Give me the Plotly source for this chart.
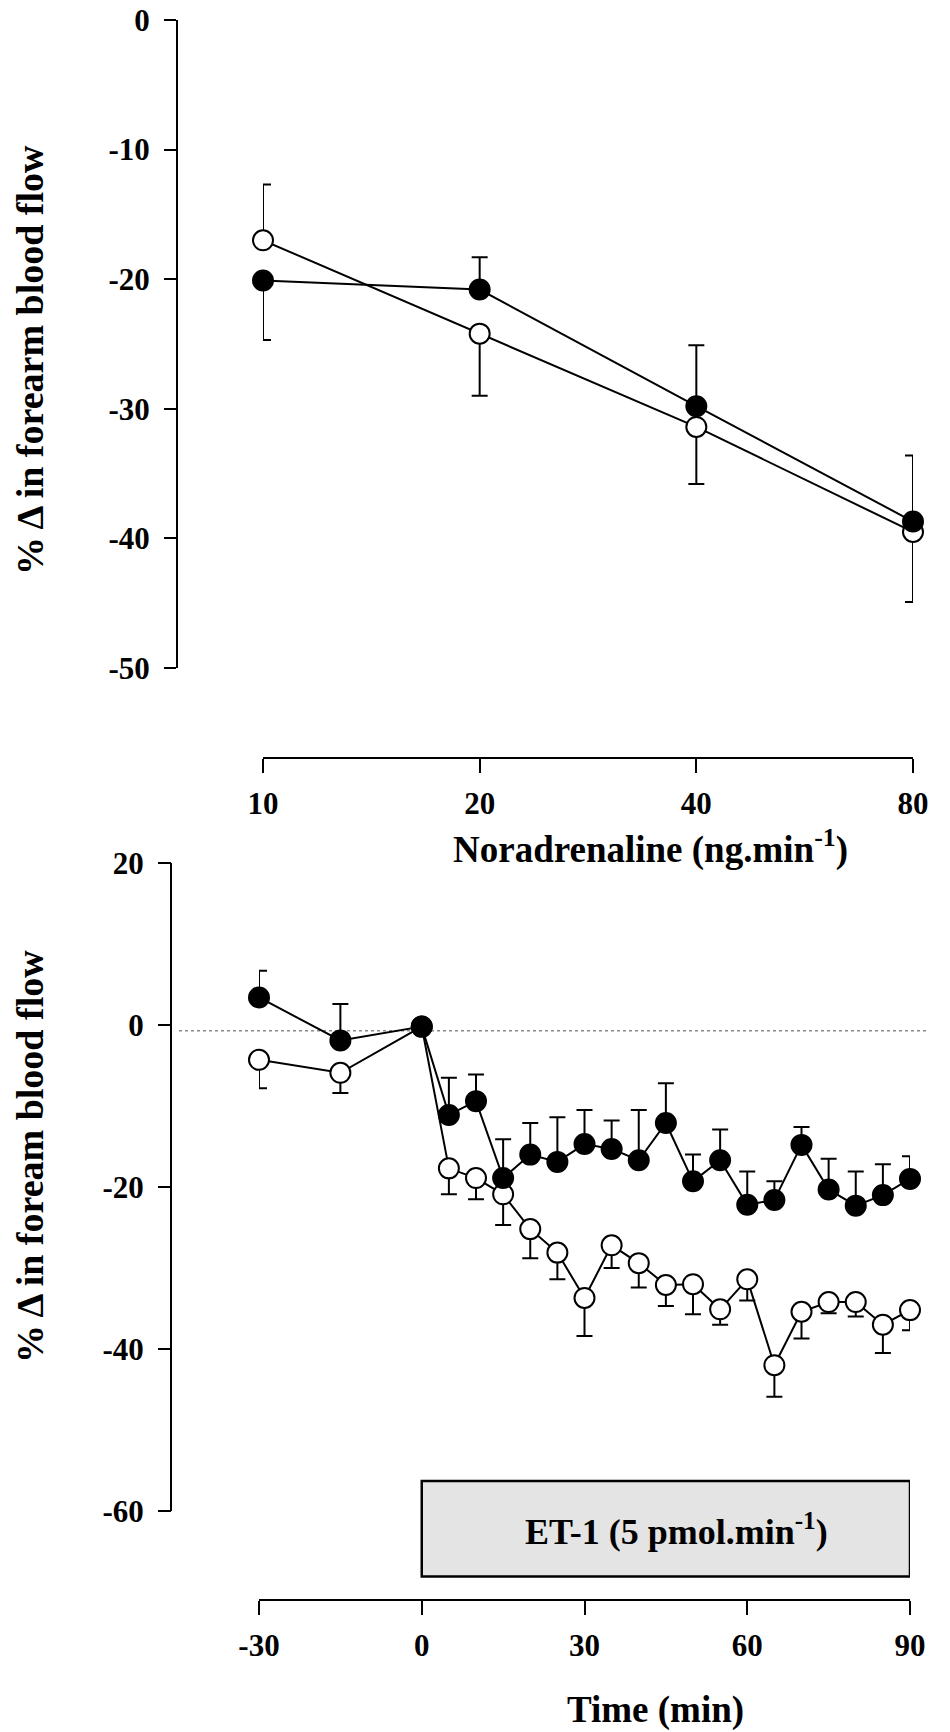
import math
import plotly.graph_objects as go

# ---------------- data ----------------
# Top panel: noradrenaline dose response
dose = [10, 20, 40, 80]
dose_ticktext = ["10", "20", "40", "80"]
na_filled = [-20.1, -20.8, -29.8, -38.7]
na_filled_err_up = [0.0, 2.5, 4.7, 5.1]
na_filled_err_down = [4.6, 0.0, 0.0, 0.0]
na_open = [-17.0, -24.2, -31.4, -39.5]
na_open_err_up = [4.3, 0.0, 0.0, 0.0]
na_open_err_down = [0.0, 4.8, 4.4, 5.4]
top_yticks = [0, -10, -20, -30, -40, -50]
top_yticktext = ["0", "-10", "-20", "-30", "-40", "-50"]

# Bottom panel: time course during ET-1 infusion
time_min = [-30, -15, 0, 5, 10, 15, 20, 25, 30, 35, 40, 45, 50, 55, 60, 65, 70, 75, 80, 85, 90]
et_filled = [3.4, -1.9, -0.2, -11.1, -9.4, -18.9, -16.0, -16.9, -14.7, -15.3, -16.7,
             -12.1, -19.3, -16.7, -22.2, -21.6, -14.8, -20.3, -22.3, -21.0, -19.0]
et_filled_err_up = [3.3, 4.5, 0.0, 4.6, 3.3, 4.8, 3.9, 5.5, 4.2, 3.5, 6.2,
                    4.9, 3.3, 3.8, 4.1, 2.3, 2.2, 3.8, 4.2, 3.8, 2.8]
et_open = [-4.3, -5.9, -0.2, -17.7, -18.9, -20.9, -25.2, -28.1, -33.7, -27.2, -29.4,
           -32.1, -32.0, -35.1, -31.4, -42.0, -35.4, -34.2, -34.2, -37.0, -35.2]
et_open_err_down = [3.5, 2.5, 0.0, 3.2, 2.6, 3.8, 3.6, 3.3, 4.7, 2.8, 3.0,
                    2.6, 3.7, 1.9, 2.6, 3.9, 3.3, 1.4, 1.8, 3.5, 2.5]
bot_xticks = [-30, 0, 30, 60, 90]
bot_xticktext = ["-30", "0", "30", "60", "90"]
bot_yticks = [20, 0, -20, -40, -60]
bot_yticktext = ["20", "0", "-20", "-40", "-60"]
infusion_start, infusion_end = 0, 90
baseline_level = -0.7

# ---------------- layout helpers ----------------
# The page body has a default 8px margin, so the figure is offset by 8px.
OFF = 8
W, H = 950 - OFF, 1732 - OFF
FONT = "Liberation Serif, Times New Roman, serif"


def fx(px):
    return (px - OFF) / W


def fy(py):
    return 1 - (py - OFF) / H


zeros = [0.0] * len(time_min)

fig = go.Figure()

marker_open = dict(symbol="circle", size=20, color="white", line=dict(color="black", width=2))
marker_filled = dict(symbol="circle", size=20, color="black", line=dict(color="black", width=2))
err_style = dict(type="data", symmetric=False, color="black", thickness=2, width=8)

# top panel
fig.add_trace(go.Scatter(
    x=dose, y=na_open, mode="lines+markers", xaxis="x", yaxis="y",
    line=dict(color="black", width=2), marker=marker_open, cliponaxis=False,
    error_y=dict(array=na_open_err_up, arrayminus=na_open_err_down, **err_style),
))
fig.add_trace(go.Scatter(
    x=dose, y=na_filled, mode="lines+markers", xaxis="x", yaxis="y",
    line=dict(color="black", width=2), marker=marker_filled, cliponaxis=False,
    error_y=dict(array=na_filled_err_up, arrayminus=na_filled_err_down, **err_style),
))

# bottom panel
fig.add_trace(go.Scatter(
    x=time_min, y=et_open, mode="lines+markers", xaxis="x2", yaxis="y2",
    line=dict(color="black", width=2), marker=marker_open, cliponaxis=False,
    error_y=dict(array=zeros, arrayminus=et_open_err_down, **err_style),
))
fig.add_trace(go.Scatter(
    x=time_min, y=et_filled, mode="lines+markers", xaxis="x2", yaxis="y2",
    line=dict(color="black", width=2), marker=marker_filled, cliponaxis=False,
    error_y=dict(array=et_filled_err_up, arrayminus=zeros, **err_style),
))

tickfont = dict(family=FONT, size=31, color="black", weight="bold")
common_axis = dict(showgrid=False, zeroline=False, ticks="outside", tickwidth=2,
                   tickcolor="black", tickfont=tickfont, linecolor="black", linewidth=2,
                   automargin=False, ticklabeloverflow="allow")

fig.update_layout(
    template="none",
    width=W, height=H, autosize=False,
    margin=dict(l=0, r=0, t=0, b=0, pad=0, autoexpand=False),
    paper_bgcolor="white", plot_bgcolor="white",
    showlegend=False,
    xaxis=dict(type="log", range=[math.log10(dose[0]), math.log10(dose[-1])],
               domain=[fx(263), fx(913)], anchor="free", position=fy(758),
               tickvals=dose, ticktext=dose_ticktext, ticklen=14,
               ticklabelstandoff=4, showline=True, **common_axis),
    yaxis=dict(range=[-50, 0], domain=[fy(668), fy(20)], anchor="free", position=fx(177),
               tickvals=top_yticks, ticktext=top_yticktext, ticklen=12,
               ticklabelstandoff=8, showline=True, **common_axis),
    xaxis2=dict(range=[-30, 90], domain=[fx(259), fx(910)], anchor="free", position=fy(1600),
                tickvals=bot_xticks, ticktext=bot_xticktext, ticklen=14,
                ticklabelstandoff=4, showline=True, **common_axis),
    yaxis2=dict(range=[-72, 20], domain=[fy(1025 + 72 * 8.1), fy(1025 - 20 * 8.1)],
                anchor="free", position=fx(171),
                tickvals=bot_yticks, ticktext=bot_yticktext, ticklen=13,
                ticklabelstandoff=8, showline=False, **common_axis),
)

# bottom y axis line only between -60 and 20
fig.add_shape(type="line", xref="paper", yref="y2", x0=fx(171), x1=fx(171),
              y0=bot_yticks[-1], y1=bot_yticks[0], line=dict(color="black", width=2))
# dotted baseline
fig.add_shape(type="line", xref="paper", yref="y2", x0=fx(179), x1=fx(926),
              y0=baseline_level, y1=baseline_level,
              line=dict(color="#8a8a8a", width=1.5, dash="dot"), layer="below")
# ET-1 infusion box
fig.add_shape(type="rect", xref="x2", yref="y2", x0=infusion_start, x1=infusion_end,
              y0=-68.1, y1=-56.3, line=dict(color="black", width=2.5),
              fillcolor="#e4e4e4", layer="above")

fig.add_annotation(xref="x2", yref="y2", x=47, y=-62.3, showarrow=False,
                   xanchor="center", yanchor="middle",
                   text="ET-1 (5 pmol.min<sup>-1</sup>)",
                   font=dict(family=FONT, size=36, color="black", weight="bold"))

title_font = dict(family=FONT, size=37, color="black", weight="bold")
ytitle_font = dict(family=FONT, size=38, color="black", weight="bold")
fig.add_annotation(xref="paper", yref="paper", x=fx(650), y=fy(847), showarrow=False,
                   xanchor="center", yanchor="middle",
                   text="Noradrenaline (ng.min<sup>-1</sup>)", font=title_font)
fig.add_annotation(xref="paper", yref="paper", x=fx(655), y=fy(1710), showarrow=False,
                   xanchor="center", yanchor="middle",
                   text="Time (min)", font=title_font)
fig.add_annotation(xref="paper", yref="paper", x=fx(30), y=fy(360), showarrow=False,
                   xanchor="center", yanchor="middle",
                   textangle=-90, text="% \u0394 in forearm blood flow", font=ytitle_font)
fig.add_annotation(xref="paper", yref="paper", x=fx(30), y=fy(1157), showarrow=False,
                   xanchor="center", yanchor="middle",
                   textangle=-90, text="% \u0394 in foream blood flow", font=ytitle_font)

fig.write_html("out.html")
